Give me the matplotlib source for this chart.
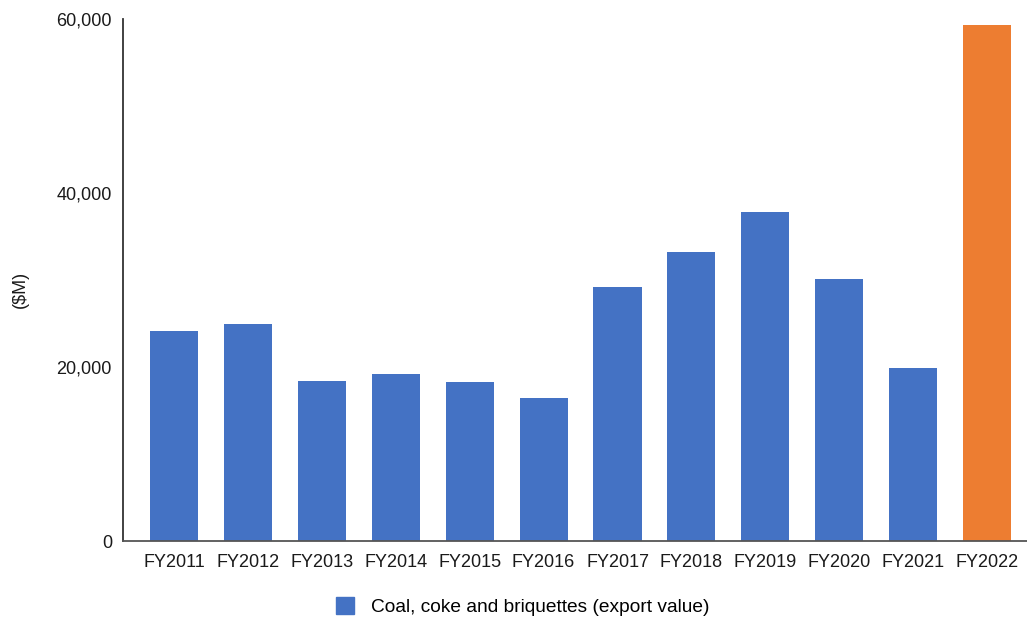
import matplotlib
matplotlib.use("Agg")
import matplotlib.pyplot as plt
from matplotlib.patches import Patch

plt.rcParams['font.family'] = ['Liberation Sans', 'DejaVu Sans']

years = ["FY2011", "FY2012", "FY2013", "FY2014", "FY2015", "FY2016",
         "FY2017", "FY2018", "FY2019", "FY2020", "FY2021", "FY2022"]
export_value = [24150, 24880, 18410, 19140, 18260, 16460,
                29170, 33150, 37780, 30050, 19830, 59260]
y_ticks = [0, 20000, 40000, 60000]
y_tick_labels = ["0", "20,000", "40,000", "60,000"]
series_name = "Coal, coke and briquettes (export value)"

blue = "#4472C4"
orange = "#ED7D31"
colors = [blue] * (len(years) - 1) + [orange]

fig = plt.figure(figsize=(10.27, 6.19), dpi=100)
ax = fig.add_axes([0.1198, 0.126, 0.8802, 0.844])

x = list(range(len(years)))
ax.bar(x, export_value, width=0.65, color=colors, zorder=2)

ax.set_xlim(-0.69, 11.54)
ax.set_ylim(0, 60000)
ax.set_yticks(y_ticks)
ax.set_yticklabels(y_tick_labels)
ax.set_xticks(x)
ax.set_xticklabels(years)
ax.tick_params(axis='both', length=0, labelsize=13, colors="#1a1a1a")
ax.tick_params(axis='x', pad=9)
ax.tick_params(axis='y', pad=8)

for s in ["top", "right"]:
    ax.spines[s].set_visible(False)
ax.spines["left"].set_color("#333333")
ax.spines["left"].set_linewidth(1.3)
ax.spines["bottom"].set_color("#555555")
ax.spines["bottom"].set_linewidth(1.3)

fig.text(0.02, 0.532, "($M)", rotation=90, ha="center", va="center",
         fontsize=13, color="#1a1a1a")

handle = Patch(facecolor=blue, edgecolor=blue)
fig.legend([handle], [series_name], loc="center", bbox_to_anchor=(0.509, 0.02),
           frameon=False, fontsize=13.8, handlelength=0.95, handleheight=0.95,
           handletextpad=0.85)

fig.savefig("out.png", dpi=100)
